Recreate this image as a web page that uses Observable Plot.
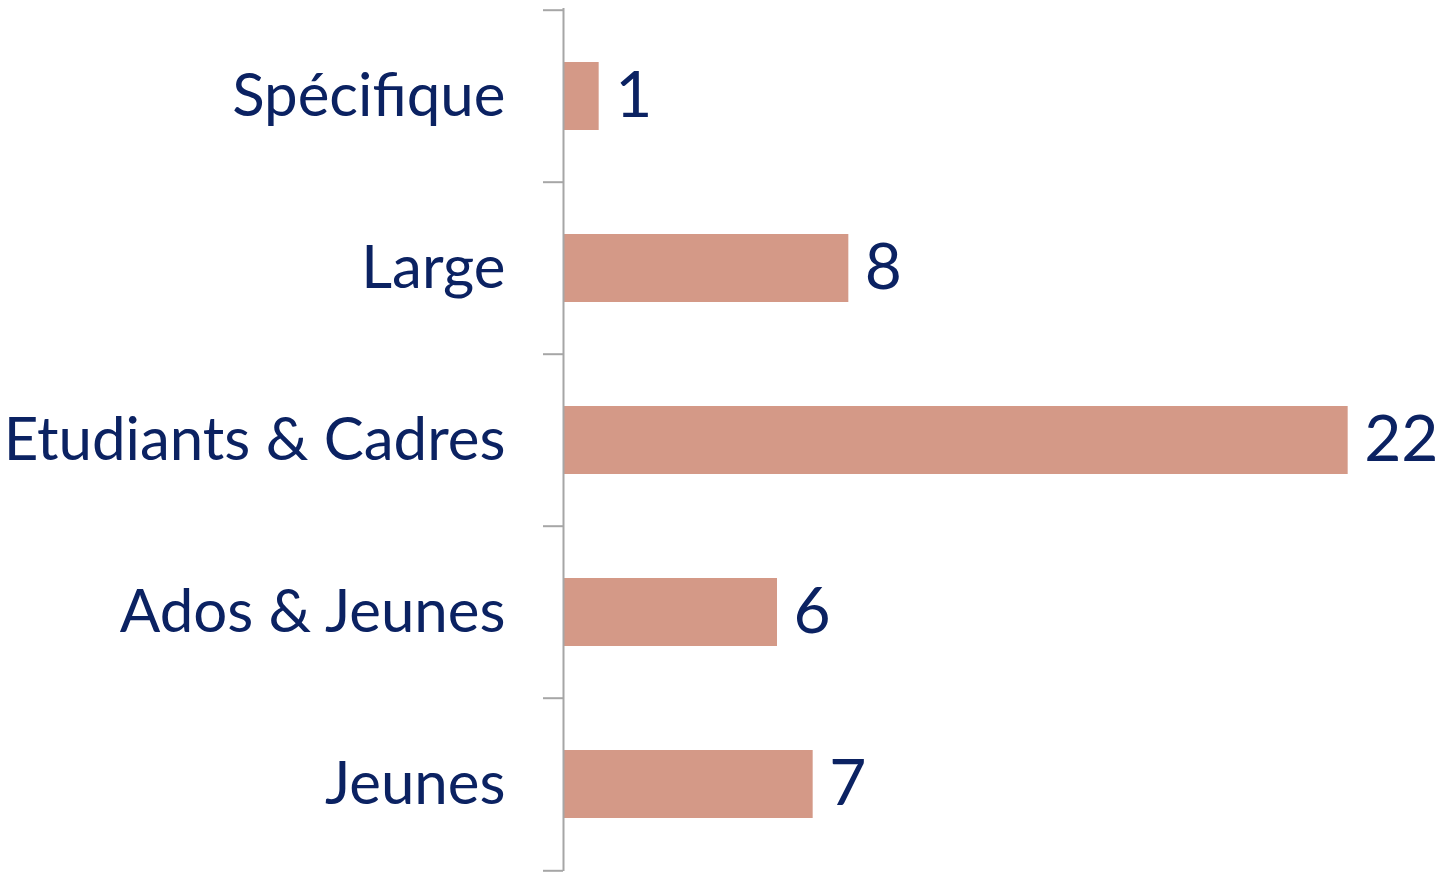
<!DOCTYPE html>
<html>
<head>
<meta charset="utf-8">
<script src="https://cdn.jsdelivr.net/npm/d3@7"></script>
<script src="https://cdn.jsdelivr.net/npm/@observablehq/plot@0.6"></script>
<style>
  html, body { margin: 0; padding: 0; background: #fff; }
  #chart svg { display: block; }
</style>
</head>
<body>
<div id="chart"></div>
<script>
const categories = ["Spécifique", "Large", "Etudiants & Cadres", "Ados & Jeunes", "Jeunes"];
const values = [1, 8, 22, 6, 7];

const data = categories.map((c, i) => ({ category: c, value: values[i] }));

const W = 1448, H = 872;
const marginTop = 8, marginBottom = 1, marginLeft = 563, marginRight = 29;
const step = (H - marginTop - marginBottom) / categories.length;
const navy = "#0b2262";
const barColor = "#d49987";
const axisGray = "#a6a6a6";
const font = "Lato, 'Open Sans', sans-serif";

const chart = Plot.plot({
  width: W,
  height: H,
  marginTop, marginBottom, marginLeft, marginRight,
  style: { fontFamily: font, background: "#fff" },
  x: { domain: [0, 24], axis: null },
  y: { domain: categories, paddingInner: 0.606, paddingOuter: 0.303, axis: null, label: null },
  marks: [
    Plot.barX(data, { y: "category", x: "value", fill: barColor }),
    Plot.ruleX([0], { stroke: axisGray, strokeWidth: 2 }),
    Plot.axisY({ ticks: categories, tickSize: 20, text: null, label: null, stroke: axisGray, strokeWidth: 2, dy: -step / 2 }),
    Plot.axisY({ ticks: categories.slice(-1), tickSize: 20, text: null, label: null, stroke: axisGray, strokeWidth: 2, dy: step / 2 }),
    Plot.axisY({ tickSize: 0, tickPadding: 58, fontSize: 60, fill: navy, label: null }),
    Plot.text(data, { y: "category", x: "value", text: d => String(d.value), textAnchor: "start", dx: 16, fontSize: 64, fill: navy })
  ]
});
document.getElementById("chart").appendChild(chart);
</script>
</body>
</html>
